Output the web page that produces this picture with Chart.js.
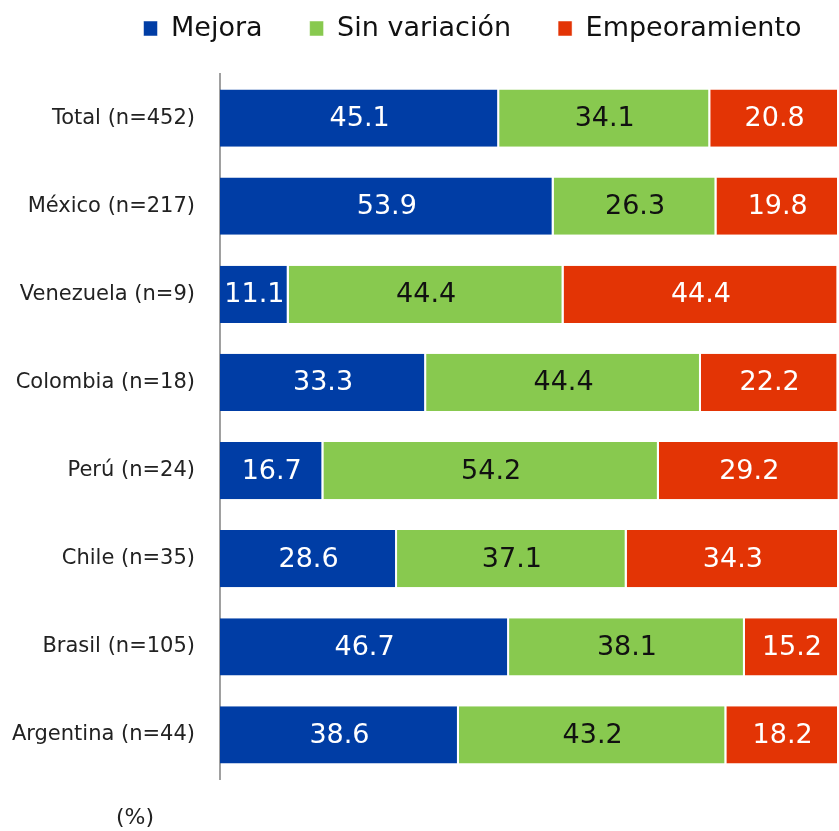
<!DOCTYPE html>
<html>
<head>
<meta charset="utf-8">
<script src="https://cdn.jsdelivr.net/npm/chart.js@4"></script>
<style>
  html, body { margin: 0; padding: 0; background: #fff; }
  #wrap { width: 839px; height: 831px; }
</style>
</head>
<body>
<div id="wrap"><canvas id="grafico"></canvas></div>
<script>
// categorias y series
const categorias = ["Total (n=452)", "México (n=217)", "Venezuela (n=9)", "Colombia (n=18)",
  "Perú (n=24)", "Chile (n=35)", "Brasil (n=105)", "Argentina (n=44)"];
const mejora = [45.1, 53.9, 11.1, 33.3, 16.7, 28.6, 46.7, 38.6];
const sinVariacion = [34.1, 26.3, 44.4, 44.4, 54.2, 37.1, 38.1, 43.2];
const empeoramiento = [20.8, 19.8, 44.4, 22.2, 29.2, 34.3, 15.2, 18.2];
const unidad = "(%)";

const FUENTE = '"DejaVu Sans"';
Chart.defaults.font.family = FUENTE;

// etiquetas dentro de las barras
const etiquetasBarras = {
  id: "etiquetasBarras",
  afterDatasetsDraw(chart) {
    const ctx = chart.ctx;
    ctx.save();
    ctx.font = "27px " + FUENTE;
    ctx.textAlign = "center";
    ctx.textBaseline = "middle";
    chart.data.datasets.forEach((ds, i) => {
      const meta = chart.getDatasetMeta(i);
      meta.data.forEach((bar, j) => {
        const x = (bar.x + bar.base) / 2;
        ctx.fillStyle = ds.labelColor;
        ctx.fillText(ds.data[j].toFixed(1), x, bar.y + 1);
      });
    });
    ctx.restore();
  }
};

// texto de unidad abajo a la izquierda
const textoUnidad = {
  id: "textoUnidad",
  afterDraw(chart) {
    const ctx = chart.ctx;
    ctx.save();
    ctx.font = "22px " + FUENTE;
    ctx.fillStyle = "#222";
    ctx.textAlign = "center";
    ctx.textBaseline = "middle";
    ctx.fillText(unidad, 135, 818);
    ctx.restore();
  }
};

// altura fija de la leyenda y desplazamiento a la derecha
const ajusteLeyenda = {
  id: "ajusteLeyenda",
  beforeInit(chart) {
    const leyenda = chart.legend;
    const fitOriginal = leyenda.fit;
    leyenda.fit = function () {
      fitOriginal.call(this);
      this.height = 108;
    };
    const drawOriginal = leyenda.draw;
    leyenda.draw = function () {
      this.ctx.save();
      this.ctx.translate(53, 2);
      drawOriginal.call(this);
      this.ctx.restore();
    };
  }
};

const crearSerie = (label, data, color, labelColor) => ({
  label, data,
  backgroundColor: color,
  borderColor: "#ffffff",
  borderWidth: { right: 2, left: 0, top: 0, bottom: 0 },
  borderSkipped: false,
  labelColor,
  barPercentage: 0.65,
  categoryPercentage: 1
});

new Chart(document.getElementById("grafico"), {
  type: "bar",
  data: {
    labels: categorias,
    datasets: [
      crearSerie("Mejora", mejora, "#003DA5", "#ffffff"),
      crearSerie("Sin variación", sinVariacion, "#88C94F", "#111111"),
      crearSerie("Empeoramiento", empeoramiento, "#E33405", "#ffffff")
    ]
  },
  options: {
    indexAxis: "y",
    responsive: true,
    maintainAspectRatio: false,
    animation: false,
    layout: { padding: { top: -34, bottom: 52, left: 0, right: 0 } },
    plugins: {
      tooltip: { enabled: false },
      legend: {
        position: "top",
        labels: {
          font: { family: FUENTE, size: 27 },
          color: "#111",
          boxWidth: 14,
          boxHeight: 15,
          padding: 47
        }
      }
    },
    scales: {
      x: {
        stacked: true,
        min: 0,
        max: 100,
        display: false
      },
      y: {
        stacked: true,
        grid: { display: false, drawTicks: false },
        border: { display: true, color: "#a0a0a0", width: 2 },
        afterFit: (escala) => { escala.width = 220; },
        ticks: {
          font: { family: FUENTE, size: 21 },
          color: "#222",
          padding: 25
        }
      }
    }
  },
  plugins: [etiquetasBarras, textoUnidad, ajusteLeyenda]
});
</script>
</body>
</html>
